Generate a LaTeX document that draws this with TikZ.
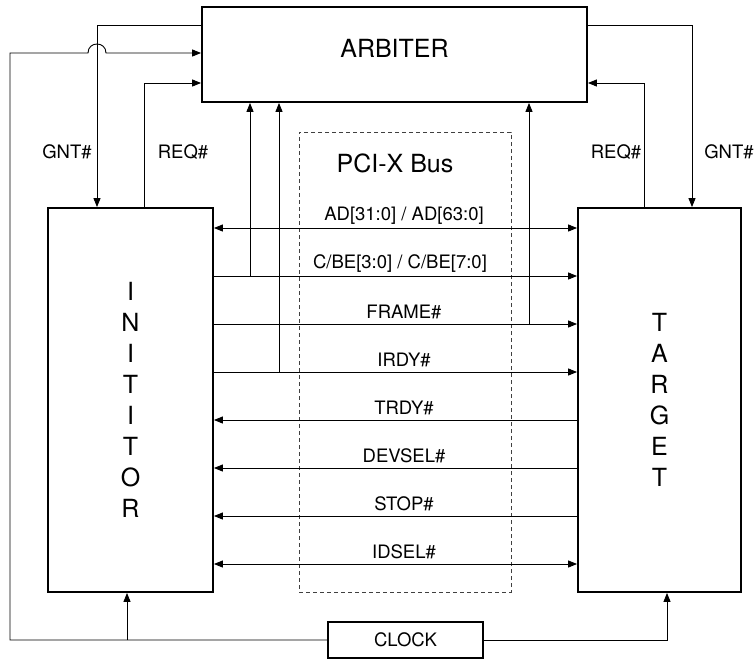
\documentclass[tikz,border=0pt]{standalone}
\usepackage{fontspec}
\setmainfont{TeX Gyre Heros}
\usetikzlibrary{arrows.meta}
\begin{document}
\begin{tikzpicture}[x=1pt,y=-1pt,
  box/.style={draw, line width=1.8pt, inner sep=0pt},
  wire/.style={line width=0.9pt},
  arr/.style={wire, -{Triangle[length=9pt,width=7pt]}},
  barr/.style={wire, {Triangle[length=9pt,width=7pt]}-{Triangle[length=9pt,width=7pt]}},
  lbl/.style={font=\fontsize{18.5}{22}\selectfont, inner sep=0pt},
  big/.style={font=\fontsize{25}{31}\selectfont, inner sep=0pt},
  busbox/.style={draw=black!75, line width=0.8pt, dash pattern=on 4pt off 3pt}]
\useasboundingbox (0,0) rectangle (755,659);

% blocks
\node[box, minimum width=385pt, minimum height=95pt] (arb) at (394.5,54.5) {};
\node[big] (arbtxt) at (394.5,48) {ARBITER};
\node[busbox, minimum width=212pt, minimum height=460pt] (bus) at (405,362) {};
\node[big] (bustxt) at (395,163) {PCI-X Bus};
\node[box, big, align=center, minimum width=165pt, minimum height=384pt] (ini) at (130.5,400) {I\\N\\I\\T\\I\\T\\O\\R};
\node[box, big, align=center, minimum width=163pt, minimum height=384pt] (tgt) at (659.5,400) {T\\A\\R\\G\\E\\T};
\node[box, lbl, minimum width=155pt, minimum height=36pt] (clk) at (405.5,640) {CLOCK};

% routing coordinates
\coordinate (gl) at (97,25);
\coordinate (rl) at (144,83);
\coordinate (gr) at (692,25);
\coordinate (rr) at (644,83);
\coordinate (cl) at (10,53);
\coordinate (h1) at (88,53);
\coordinate (hc1) at (88,41);
\coordinate (hc2) at (106,41);
\coordinate (h2) at (106,53);
\coordinate (cb) at (127,640);
\coordinate (cr) at (667,640);

% arbitration signals
\draw[arr] (arb.west |- gl) -| (ini.north -| gl);
\draw[arr] (ini.north -| rl) |- (arb.west |- rl);
\draw[arr] (arb.east |- gr) -| (tgt.north -| gr);
\draw[arr] (tgt.north -| rr) |- (arb.east |- rr);
\node[lbl] (gntl) at (67,152) {GNT\#};
\node[lbl] (reql) at (183,152) {REQ\#};
\node[lbl] (reqr) at (616,152) {REQ\#};
\node[lbl] (gntr) at (729,152) {GNT\#};

% clock
\draw[arr] (clk.west) -| (cl) -- (h1) .. controls (hc1) and (hc2) .. (h2) -- (arb.west |- cl);
\draw[arr] (cb) -- (ini.south -| cb);
\draw[arr] (clk.east) -| (tgt.south -| cr);

% bus lines
\coordinate (b1) at (0,228);
\coordinate (b2) at (0,276);
\coordinate (b3) at (0,324);
\coordinate (b4) at (0,372);
\coordinate (b5) at (0,420);
\coordinate (b6) at (0,468);
\coordinate (b7) at (0,516);
\coordinate (b8) at (0,564);
\draw[barr] (ini.east |- b1) -- (tgt.west |- b1);
\draw[arr] (ini.east |- b2) -- (tgt.west |- b2);
\draw[arr] (ini.east |- b3) -- (tgt.west |- b3);
\draw[arr] (ini.east |- b4) -- (tgt.west |- b4);
\draw[arr] (tgt.west |- b5) -- (ini.east |- b5);
\draw[arr] (tgt.west |- b6) -- (ini.east |- b6);
\draw[arr] (tgt.west |- b7) -- (ini.east |- b7);
\draw[barr] (ini.east |- b8) -- (tgt.west |- b8);
\node[lbl] (l1) at (404,216) {AD[31:0] / AD[63:0]};
\node[lbl] (l2) at (400,264) {C/BE[3:0] / C/BE[7:0]};
\node[lbl] (l3) at (404,312) {FRAME\#};
\node[lbl] (l4) at (404,360) {IRDY\#};
\node[lbl] (l5) at (404,408) {TRDY\#};
\node[lbl] (l6) at (404,456) {DEVSEL\#};
\node[lbl] (l7) at (404,504) {STOP\#};
\node[lbl] (l8) at (404,552) {IDSEL\#};

% taps to arbiter
\coordinate (v1) at (250,276);
\coordinate (v2) at (279,372);
\coordinate (v3) at (529,324);
\draw[arr] (v1) -- (arb.south -| v1);
\draw[arr] (v2) -- (arb.south -| v2);
\draw[arr] (v3) -- (arb.south -| v3);
\end{tikzpicture}
\end{document}
